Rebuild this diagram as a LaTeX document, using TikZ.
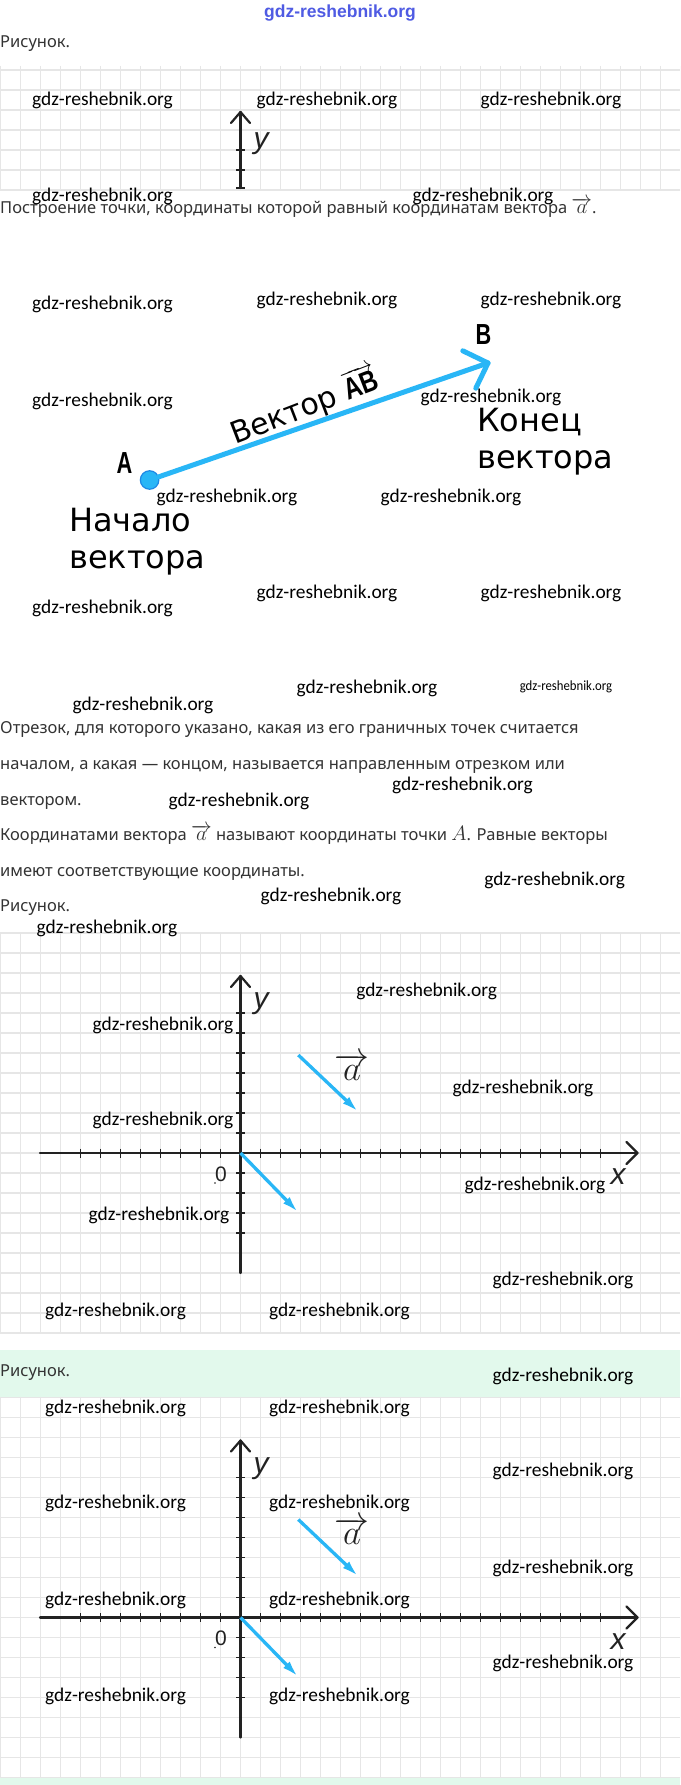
\documentclass[tikz,border=0pt]{standalone}
\usepackage{fontspec}
\usepackage{graphicx}
\setmainfont{Noto Sans}
\newfontfamily\wmfont{Carlito}
\newfontfamily\labfont{DejaVu Sans}
\newfontfamily\libfont{Liberation Sans}
\usetikzlibrary{arrows.meta}
\definecolor{txt}{HTML}{333333}
\definecolor{vec}{HTML}{29B6F6}
\definecolor{vecd}{HTML}{1E88E5}
\definecolor{gridc}{HTML}{E6E6E6}
\definecolor{mint}{HTML}{E2F9EC}
\definecolor{wmblue}{HTML}{4F5BE3}
\definecolor{axc}{HTML}{222222}
\newcommand\bigvecsym[1]{\scalebox{1.2}{$\overrightarrow{#1}$}}
\tikzset{
  wmk/.style={font=\wmfont\fontsize{19.4}{20}\selectfont, text=black, inner sep=0pt},
  body/.style={anchor=base west, font=\fontsize{16.5}{18}\selectfont, text=txt, inner sep=0pt},
  lbl/.style={anchor=base west, font=\labfont\fontsize{32}{37}\selectfont, text=black, inner sep=0pt},
  ptlab/.style={font=\libfont\bfseries\fontsize{29}{30}\selectfont, text=black, inner sep=0pt},
  axlab/.style={font=\libfont\itshape\fontsize{30}{30}\selectfont, text=axc, inner sep=0pt},
  zerolab/.style={font=\libfont\fontsize{21}{22}\selectfont, text=axc, inner sep=0pt},
  veclab/.style={anchor=base, font=\fontsize{24}{24}\selectfont, text=axc, inner sep=0pt},
  gridl/.style={draw=gridc, line width=1.4pt},
  axisline/.style={draw=axc, line width=2.2pt, line cap=round, line join=round},
  tickline/.style={draw=axc, line width=1.6pt},
  bigvec/.style={draw=vec, line width=5pt, line cap=round, line join=round},
  vecarrow/.style={draw=vec, line width=3.3pt, -{Latex[length=17pt,width=9pt]}},
}
\begin{document}
\begin{tikzpicture}[x=1pt,y=-1pt]
\useasboundingbox (0,0) rectangle (680,1785);
\fill[white] (0,0) rectangle (680,1785);
% green bands
\fill[mint] (0,1350) rectangle (680,1397);
\fill[mint] (0,1777.5) rectangle (680,1785);
% grids
\begin{scope}
\clip (0,66) rectangle (680,191);
\foreach \i in {0,...,34} \draw[gridl] ({0.5+20*\i},66) -- ({0.5+20*\i},191);
\foreach \k in {0,...,6} \draw[gridl] (0,{70+20*\k}) -- (680,{70+20*\k});
\end{scope}
\begin{scope}
\clip (0,932) rectangle (680,1334);
\foreach \i in {0,...,34} \draw[gridl] ({0.5+20*\i},932) -- ({0.5+20*\i},1334);
\foreach \k in {-11,...,9} \draw[gridl] (0,{1153+20*\k}) -- (680,{1153+20*\k});
\end{scope}
\begin{scope}
\clip (0,1396.5) rectangle (680,1778);
\foreach \i in {0,...,34} \draw[gridl] ({0.5+20*\i},1396.5) -- ({0.5+20*\i},1778);
\foreach \k in {-11,...,8} \draw[gridl] (0,{1617.5+20*\k}) -- (680,{1617.5+20*\k});
\end{scope}

% header watermark
\node[font=\libfont\bfseries\fontsize{17.5}{18}\selectfont, text=wmblue, inner sep=0pt] (hdr) at (340,13.5) {gdz-reshebnik.org};

% texts
\node[body] (cap1) at (0,48) {Рисунок.};
\node[body] (cap2) at (0,213) {Построение точки, координаты которой равный координатам вектора \bigvecsym{a}.};
\node[body] (p1) at (0,733) {Отрезок, для которого указано, какая из его граничных точек считается};
\node[body] (p2) at (0,769) {началом, а какая — концом, называется направленным отрезком или};
\node[body] (p3) at (0,805.5) {вектором.};
\node[body] (p4) at (0,840.5) {Координатами вектора \bigvecsym{a} называют координаты точки \scalebox{1.2}{$A$}. Равные векторы};
\node[body] (p5) at (0,876.5) {имеют соответствующие координаты.};
\node[body] (p6) at (0,911.5) {Рисунок.};
\node[body] (p7) at (0,1376.5) {Рисунок.};

% grid 1 axis
\coordinate (g1b) at (240.5,188);
\coordinate (g1t) at (240.5,112);
\draw[axisline] (g1b) -- (g1t);
\draw[axisline] (231,123) -- (g1t) -- (250,123);
\foreach \yy in {150,170,188} \draw[tickline] (236,\yy) -- (245,\yy);
\node[axlab] (y1) at (261,144) {y};

% vector AB
\node[circle, fill=vec, draw=vecd, line width=1.2pt, minimum size=18.5pt, inner sep=0pt] (A) at (149.6,480) {};
\coordinate (Btip) at (488,363);
\coordinate (Barm1) at (462.8,350.8);
\coordinate (Barm2) at (475.8,388.2);
\draw[bigvec] (A) -- (Btip);
\draw[bigvec] (Barm1) -- (Btip) -- (Barm2);
\node[ptlab] (Alab) at (124.5,463.5) {\scalebox{0.75}[1.05]{A}};
\node[ptlab] (Blab) at (483.5,335) {\scalebox{0.75}[1]{B}};
\node[font=\labfont\fontsize{30}{30}\selectfont, inner sep=0pt, rotate=21] (vAB) at (304,406)
  {Вектор \scalebox{0.8}[1]{$\overrightarrow{\hbox{\libfont\bfseries AB}}$}};
\node[lbl] (kon1) at (477,431.7) {Конец};
\node[lbl] (kon2) at (477,468.5) {вектора};
\node[lbl] (nach1) at (69,531.7) {Начало};
\node[lbl] (nach2) at (69,568.3) {вектора};

% grid 2 axes
\coordinate (O2) at (240.5,1153);
\coordinate (x2l) at (40,1153);
\coordinate (x2t) at (637.5,1153);
\coordinate (y2b) at (240.5,1273);
\coordinate (y2t) at (240.5,976);
\draw[axisline] (x2l) -- (x2t);
\draw[axisline] (626.5,1142) -- (x2t) -- (626.5,1164);
\draw[axisline] (y2b) -- (y2t);
\draw[axisline] (231,987) -- (y2t) -- (250,987);
\foreach \i in {-8,...,-1,1,2,...,18} \draw[tickline] ({240.5+20*\i},1148.5) -- ({240.5+20*\i},1157.5);
\foreach \k in {-7,...,-1,1,2,3,4} \draw[tickline] (236,{1153+20*\k}) -- (245,{1153+20*\k});
\node[axlab] (y2) at (261,1004) {y};
\node[axlab] (x2) at (618,1177) {x};
\node[zerolab] (z2) at (221,1174) {0};
\fill[axc] (215,1183) circle (0.9);
\coordinate (a2s) at (298.3,1055);
\coordinate (a2e) at (358.5,1112);
\coordinate (b2e) at (298.4,1212.5);
\draw[vecarrow] (a2s) -- (a2e);
\draw[vecarrow] (O2) -- (b2e);
\node[veclab] (al2) at (352,1080) {\scalebox{1.4}{$\overrightarrow{\mkern3mu a\mkern3mu}$}};

% grid 3 axes
\coordinate (O3) at (240.5,1617.5);
\coordinate (x3l) at (40,1617.5);
\coordinate (x3t) at (637.5,1617.5);
\coordinate (y3b) at (240.5,1737.5);
\coordinate (y3t) at (240.5,1440.5);
\draw[axisline] (x3l) -- (x3t);
\draw[axisline] (626.5,1606.5) -- (x3t) -- (626.5,1628.5);
\draw[axisline] (y3b) -- (y3t);
\draw[axisline] (231,1451.5) -- (y3t) -- (250,1451.5);
\foreach \i in {-8,...,-1,1,2,...,18} \draw[tickline] ({240.5+20*\i},1613) -- ({240.5+20*\i},1622);
\foreach \k in {-7,...,-1,1,2,3,4} \draw[tickline] (236,{1617.5+20*\k}) -- (245,{1617.5+20*\k});
\node[axlab] (y3) at (261,1468.5) {y};
\node[axlab] (x3) at (618,1641.5) {x};
\node[zerolab] (z3) at (221,1638.5) {0};
\fill[axc] (215,1647.5) circle (0.9);
\coordinate (a3s) at (298.3,1519.5);
\coordinate (a3e) at (358.5,1576.5);
\coordinate (b3e) at (298.4,1677);
\draw[vecarrow] (a3s) -- (a3e);
\draw[vecarrow] (O3) -- (b3e);
\node[veclab] (al3) at (352,1544.5) {\scalebox{1.4}{$\overrightarrow{\mkern3mu a\mkern3mu}$}};

% watermarks
\foreach \x/\y [count=\i] in {102.5/100, 327/100, 551/100, 102.5/196, 483/196,
  102.5/304, 327/300, 551/300, 102.5/401, 491/397, 227/497, 451/497,
  327/593, 551/593, 102.5/608, 143/705, 367/688, 239/801.7, 462.5/785,
  554.7/880, 331/896.7, 107/928, 426.7/991.7, 163/1025, 523/1088, 163/1120,
  535/1185, 159/1215, 563/1280, 115.6/1311.7, 339.5/1311.7, 563/1376.7,
  115.6/1408, 339.5/1408, 563/1471.7, 115.6/1503, 339.5/1503, 563/1568,
  115.6/1600, 339.5/1600, 563/1663, 115.6/1696.7, 339.5/1696.7}
  \node[wmk] (w\i) at (\x,\y) {gdz-reshebnik.org};
\node[wmk, font=\wmfont\fontsize{14}{14}\selectfont] (wsmall) at (566,687) {\scalebox{0.91}[1]{gdz-reshebnik.org}};
\end{tikzpicture}
\end{document}
